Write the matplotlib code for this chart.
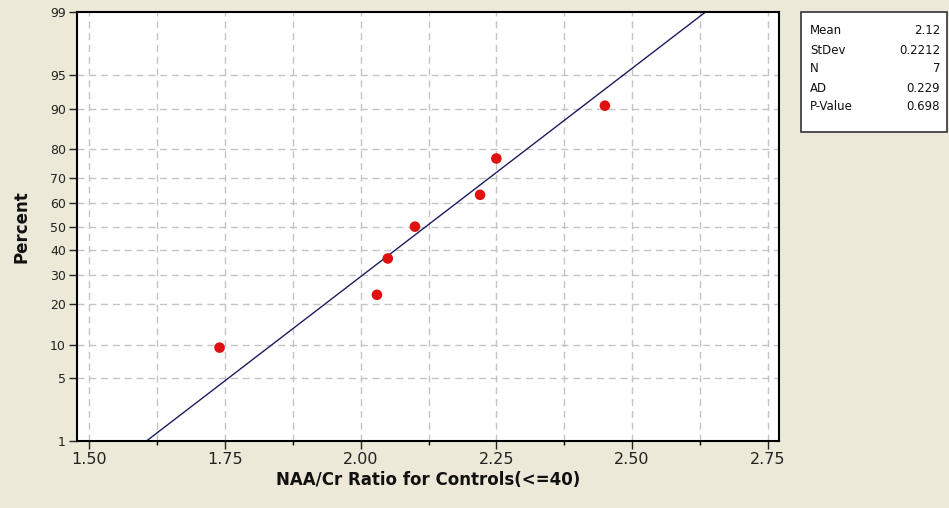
import matplotlib
matplotlib.use("Agg")
import matplotlib.pyplot as plt
from matplotlib.patches import Rectangle
from statistics import NormalDist
import numpy as np

# NAA/Cr ratios for controls (age <= 40) and their median-rank percentiles
ratios = [1.74, 2.03, 2.05, 2.10, 2.22, 2.25, 2.45]
percents = [9.46, 22.97, 36.49, 50.0, 63.51, 77.03, 90.54]

y_ticks = [1, 5, 10, 20, 30, 40, 50, 60, 70, 80, 90, 95, 99]
x_ticks = [1.50, 1.75, 2.00, 2.25, 2.50, 2.75]

stat_names = ["Mean", "StDev", "N", "AD", "P-Value"]
stat_values = ["2.12", "0.2212", "7", "0.229", "0.698"]

nd = NormalDist()
def z(p):
    if np.ndim(p) == 0:
        return nd.inv_cdf(float(p) / 100.0)
    return np.array([nd.inv_cdf(v / 100.0) for v in p])

mean = float(np.mean(ratios))
sd = float(np.std(ratios, ddof=1))

bg = "#ECE9D8"
fig = plt.figure(figsize=(9.49, 5.08), dpi=100, facecolor=bg)
ax = fig.add_axes([0.0811, 0.1319, 0.7398, 0.8439])
ax.set_facecolor("white")

zlo, zhi = z(1), z(99)
ax.set_ylim(zlo, zhi)
ax.set_xlim(1.4773, 2.7708)

# grid
grid_style = dict(color="#c4c4c4", lw=1.0, ls=(0, (5, 3.5)), zorder=1)
for gx in np.arange(1.50, 2.7501, 0.125):
    ax.axvline(gx, **grid_style)
for gy in y_ticks[1:-1]:
    ax.axhline(z(gy), **grid_style)

# fitted normal line
zz = np.linspace(zlo, zhi, 200)
ax.plot(mean + sd * zz, zz, color="#1c1c60", lw=1.0, zorder=2)

# data points
ax.scatter(ratios, z(percents), s=58, color="#e01010", edgecolors="none", zorder=3)

ax.set_yticks([z(v) for v in y_ticks])
ax.set_yticklabels([str(v) for v in y_ticks])
ax.set_xticks(x_ticks)
ax.set_xticklabels([f"{v:.2f}" for v in x_ticks])
ax.set_xticks(np.arange(1.625, 2.75, 0.25), minor=True)
ax.tick_params(axis="y", direction="out", length=6, width=1, labelsize=9, colors="#222222", pad=2)
ax.tick_params(axis="x", direction="out", length=6, width=1, labelsize=11.5, colors="#222222", pad=2)
ax.tick_params(axis="x", which="minor", direction="out", length=3, width=1)

for s in ax.spines.values():
    s.set_linewidth(1.5)
    s.set_color("black")

ax.set_xlabel("NAA/Cr Ratio for Controls(<=40)", fontsize=12, fontweight="bold", color="#111111", labelpad=3)
ax.set_ylabel("Percent", fontsize=12, fontweight="bold", color="#111111", labelpad=14)

# summary statistics box
W, H = 949.0, 508.0
bx0, by0, bx1, by1 = 801, 12, 947, 132
fig.patches.append(Rectangle((bx0 / W, 1 - by1 / H), (bx1 - bx0) / W, (by1 - by0) / H,
                             transform=fig.transFigure, facecolor="white",
                             edgecolor="#333333", lw=1.2))
rows_y = [31, 50, 69, 88, 107]
for name, val, ry in zip(stat_names, stat_values, rows_y):
    fig.text(810 / W, 1 - ry / H, name, fontsize=8.5, va="center", ha="left", color="#111111")
    fig.text(940 / W, 1 - ry / H, val, fontsize=8.5, va="center", ha="right", color="#111111")

fig.savefig("out.png", dpi=100, facecolor=bg)
